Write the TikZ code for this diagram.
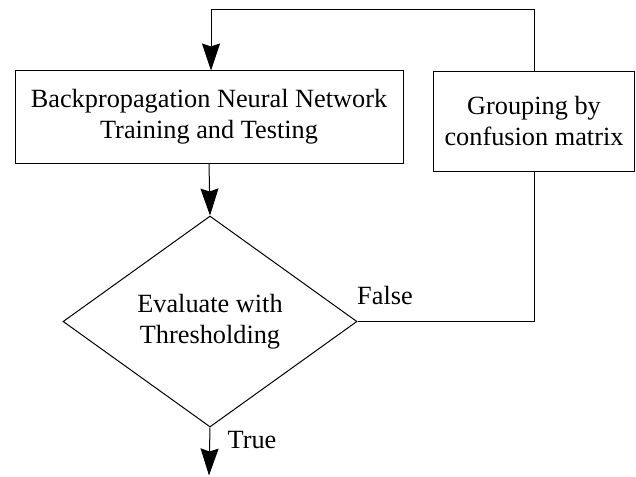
\documentclass[tikz,border=0pt]{standalone}
\usepackage{fontspec}
\setmainfont{Liberation Serif}
\usetikzlibrary{arrows.meta,shapes.geometric}
\tikzset{
  base/.style={draw=black, line width=1pt},
  procbox/.style={base, rectangle, inner sep=0pt, align=center,
    font=\fontsize{26.3}{31}\selectfont},
  decision/.style={base, diamond, inner sep=0pt, aspect=1.393,
    minimum width=294pt, minimum height=211pt, align=center,
    font=\fontsize{26.3}{31}\selectfont},
  conn/.style={line width=1pt, draw=black},
  arr/.style={conn, -{Stealth[length=27pt,width=18pt,inset=3pt]}},
  lbl/.style={inner sep=0pt, font=\fontsize{26.3}{31}\selectfont}
}
\begin{document}
\begin{tikzpicture}[x=1pt,y=-1pt]
\useasboundingbox (0,0) rectangle (636,476);
\node[procbox, minimum width=388pt, minimum height=92pt] (bp) at (209,117)
  {Backpropagation Neural Network\\Training and Testing};
\node[procbox, minimum width=201pt, minimum height=99pt] (grp) at (534,121.5)
  {Grouping by\\confusion matrix};
\node[decision] (ev) at (210,321.5) {Evaluate with\\Thresholding};
\coordinate (topc) at (211,10);
\coordinate (endc) at (209,475.5);
\draw[arr] (grp.north) |- (topc) -- (topc |- bp.north);
\draw[arr] (bp.south) -- (ev.north);
\draw[conn] (ev.east) -| (grp.south);
\draw[arr] (ev.south) -- (endc);
\node[lbl] (fl) at (385,296) {False};
\node[lbl] (tl) at (252,440) {True};
\end{tikzpicture}
\end{document}
